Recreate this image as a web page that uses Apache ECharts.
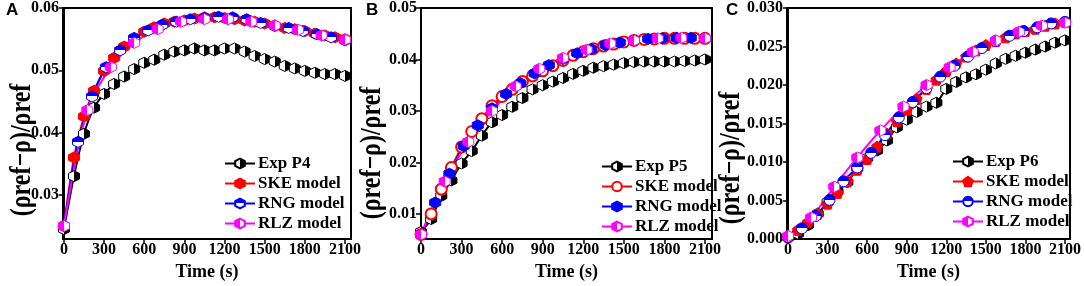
<!DOCTYPE html>
<html>
<head>
<meta charset="utf-8">
<script src="https://cdn.jsdelivr.net/npm/echarts@6.0.0/dist/echarts.min.js"></script>
<style>
  html, body { margin: 0; padding: 0; background: #fff; }
  #main { width: 1084px; height: 286px; }
</style>
</head>
<body>
<div id="main"></div>
<script>
// 时间 (s)
const tExp = [0, 75, 150, 225, 300, 375, 450, 525, 600, 675, 750, 825, 900, 975, 1050, 1125, 1200, 1275, 1350, 1425, 1500, 1575, 1650, 1725, 1800, 1875, 1950, 2025, 2100];
const tSke = tExp;
const tRng = [0, 105, 210, 315, 420, 525, 630, 735, 840, 945, 1050, 1155, 1260, 1365, 1470, 1575, 1680, 1785, 1890, 1995, 2100];
const tRlz = [0, 175, 350, 525, 700, 875, 1050, 1225, 1400, 1575, 1750, 1925, 2100];

// A - P4
const expA = [0.0245, 0.033, 0.0398, 0.044, 0.0462, 0.0478, 0.049, 0.0502, 0.0512, 0.0517, 0.0525, 0.053, 0.0532, 0.0535, 0.0532, 0.0532, 0.0535, 0.0535, 0.053, 0.0523, 0.0518, 0.0514, 0.0507, 0.0503, 0.0499, 0.0496, 0.0494, 0.0494, 0.0491];
const skeA = [0.025, 0.036, 0.0426, 0.0467, 0.0499, 0.052, 0.0538, 0.0551, 0.0562, 0.0569, 0.0575, 0.0578, 0.058, 0.0583, 0.0585, 0.0585, 0.0584, 0.0582, 0.058, 0.0578, 0.0575, 0.0572, 0.0568, 0.0566, 0.0563, 0.0559, 0.0556, 0.0553, 0.055];
const rngA = [0.025, 0.0385, 0.0458, 0.0505, 0.0532, 0.0552, 0.0564, 0.0573, 0.0578, 0.0582, 0.0584, 0.0586, 0.0585, 0.0582, 0.0576, 0.0571, 0.0568, 0.0563, 0.0558, 0.0553, 0.0548];
const rlzA = [0.025, 0.0436, 0.0505, 0.0544, 0.0566, 0.0578, 0.0582, 0.0582, 0.0578, 0.0572, 0.0565, 0.0556, 0.0549];

// B - P5
const expB = [0.0065, 0.009, 0.0135, 0.0165, 0.0198, 0.0222, 0.0252, 0.0278, 0.0292, 0.0308, 0.0325, 0.0342, 0.035, 0.0357, 0.0364, 0.0372, 0.0378, 0.0384, 0.0387, 0.039, 0.0393, 0.0395, 0.0396, 0.0396, 0.0396, 0.0396, 0.0397, 0.0398, 0.04];
const skeB = [0.006, 0.01, 0.0148, 0.019, 0.023, 0.026, 0.0285, 0.031, 0.0328, 0.0342, 0.0357, 0.0368, 0.0378, 0.0388, 0.0398, 0.0408, 0.0415, 0.0421, 0.0426, 0.043, 0.0434, 0.0437, 0.0439, 0.044, 0.0441, 0.0441, 0.0441, 0.0441, 0.0441];
const rngB = [0.006, 0.0122, 0.0178, 0.0232, 0.0272, 0.0305, 0.0333, 0.0354, 0.0373, 0.0389, 0.0401, 0.0412, 0.042, 0.0428, 0.0433, 0.0437, 0.044, 0.0441, 0.0442, 0.0442, 0.0441];
const rlzB = [0.006, 0.0163, 0.024, 0.03, 0.0348, 0.0382, 0.0403, 0.0419, 0.0431, 0.0437, 0.0441, 0.0442, 0.0441];

// C - P6
const expC = [0.0002, 0.0007, 0.0018, 0.0033, 0.0048, 0.0062, 0.0074, 0.0092, 0.0105, 0.0115, 0.0128, 0.0145, 0.0155, 0.0165, 0.0172, 0.0177, 0.0195, 0.0204, 0.021, 0.0214, 0.022, 0.0228, 0.0234, 0.0238, 0.0242, 0.0246, 0.025, 0.0255, 0.0258];
const skeC = [0.0003, 0.0012, 0.0022, 0.0033, 0.0046, 0.006, 0.0075, 0.009, 0.0104, 0.012, 0.0137, 0.0153, 0.0168, 0.0182, 0.0195, 0.0207, 0.0218, 0.0228, 0.0237, 0.0245, 0.0252, 0.0257, 0.0262, 0.0267, 0.027, 0.0273, 0.0277, 0.028, 0.0282];
const rngC = [0.0003, 0.0014, 0.003, 0.0051, 0.0075, 0.0093, 0.0112, 0.0135, 0.0158, 0.0178, 0.0196, 0.0211, 0.0225, 0.0237, 0.0248, 0.0257, 0.0264, 0.027, 0.0275, 0.028, 0.0282];
const rlzC = [0.0004, 0.0028, 0.0068, 0.0106, 0.0141, 0.0172, 0.02, 0.0223, 0.0243, 0.0258, 0.0269, 0.0277, 0.0281];

const xTicks = [0, 300, 600, 900, 1200, 1500, 1800, 2100];
const yTicksA = [0.03, 0.04, 0.05, 0.06];
const yTicksB = [0.01, 0.02, 0.03, 0.04, 0.05];
const yTicksC = [0, 0.005, 0.01, 0.015, 0.02, 0.025, 0.03];

const hexagon = 'path://M0,-10L8.66,-5L8.66,5L0,10L-8.66,5L-8.66,-5Z';
const pentagon = 'path://M0,-10L9.5,-3.1L5.9,8.1L-5.9,8.1L-9.5,-3.1Z';

// 半填充符号
function halfFill(c1, c2, vertical) {
  return new echarts.graphic.LinearGradient(0, 0, vertical ? 0 : 1, vertical ? 1 : 0, [
    { offset: 0, color: c1 },
    { offset: 0.5, color: c1 },
    { offset: 0.5, color: c2 },
    { offset: 1, color: c2 },
  ]);
}

function pairs(t, v) {
  return t.map((x, i) => [x, v[i]]);
}

function line(name, idx, t, v, color, symbol, fill, border) {
  return {
    name: name,
    type: 'line',
    xAxisIndex: idx,
    yAxisIndex: idx,
    data: pairs(t, v),
    smooth: 0.3,
    clip: false,
    symbol: symbol,
    symbolSize: 11,
    lineStyle: { color: color, width: 2 },
    itemStyle: { color: fill, borderColor: color, borderWidth: border || 1 },
  };
}

const series = [
  line('Exp P4', 0, tExp, expA, '#000', hexagon, halfFill('#fff', '#000')),
  line('SKE model#A', 0, tSke, skeA, '#ff0000', hexagon, '#ff0000'),
  line('RNG model#A', 0, tRng, rngA, '#0000ff', hexagon, halfFill('#0000ff', '#fff', true)),
  line('RLZ model#A', 0, tRlz, rlzA, '#ff00ff', hexagon, halfFill('#ff00ff', '#fff')),

  line('Exp P5', 1, tExp, expB, '#000', hexagon, halfFill('#fff', '#000')),
  line('SKE model#B', 1, tSke, skeB, '#ff0000', 'circle', '#fff', 2),
  line('RNG model#B', 1, tRng, rngB, '#0000ff', hexagon, '#0000ff'),
  line('RLZ model#B', 1, tRlz, rlzB, '#ff00ff', hexagon, halfFill('#ff00ff', '#fff')),

  line('Exp P6', 2, tExp, expC, '#000', hexagon, halfFill('#fff', '#000')),
  line('SKE model#C', 2, tSke, skeC, '#ff0000', pentagon, '#ff0000'),
  line('RNG model#C', 2, tRng, rngC, '#0000ff', 'circle', halfFill('#0000ff', '#fff', true)),
  line('RLZ model#C', 2, tRlz, rlzC, '#ff00ff', hexagon, halfFill('#ff00ff', '#fff')),
];

const serif = '"Liberation Serif", "Times New Roman", serif';

function grid(left, right, top, bottom) {
  return { left: left, right: right, top: top, bottom: bottom, show: true, borderColor: '#000', borderWidth: 2, containLabel: false };
}

function xAxis(idx, min, max) {
  return {
    type: 'value',
    gridIndex: idx,
    min: min,
    max: max,
    name: 'Time (s)',
    nameLocation: 'middle',
    nameGap: 22,
    nameTextStyle: { fontFamily: serif, fontWeight: 'bold', fontSize: 18, color: '#000' },
    axisLine: { lineStyle: { color: '#000', width: 2 } },
    axisTick: { customValues: xTicks, length: 5, lineStyle: { width: 1.5 } },
    axisLabel: {
      customValues: xTicks,
      margin: 3,
      fontFamily: serif,
      fontWeight: 'bold',
      fontSize: 16,
      color: '#000',
      formatter: (v) => String(v),
    },
    splitLine: { show: false },
  };
}

function yAxis(idx, min, max, ticks, digits) {
  return {
    type: 'value',
    gridIndex: idx,
    min: min,
    max: max,
    axisLine: { lineStyle: { color: '#000', width: 2 } },
    axisTick: { customValues: ticks, length: 5, lineStyle: { width: 1.5 } },
    axisLabel: {
      customValues: ticks,
      margin: 4,
      fontFamily: serif,
      fontWeight: 'bold',
      fontSize: 16,
      color: '#000',
      formatter: (v) => v.toFixed(digits),
    },
    splitLine: { show: false },
  };
}

function legend(names, left, top) {
  return {
    data: names,
    orient: 'vertical',
    left: left,
    top: top,
    itemWidth: 30,
    itemHeight: 12,
    itemGap: 3,
    padding: 0,
    formatter: (n) => n.split('#')[0],
    textStyle: { fontFamily: serif, fontWeight: 'bold', fontSize: 17, color: '#000', padding: [0, 0, 0, -2] },
  };
}

function panelLetter(text, x) {
  return { type: 'text', left: x, top: 2, style: { text: text, font: 'bold 17px "Liberation Sans", Arial, sans-serif', fill: '#000' } };
}

// 纵轴标题
function yTitle(x, y) {
  return {
    type: 'text',
    x: x,
    y: y,
    rotation: Math.PI / 2,
    scaleY: 1.25,
    style: {
      text: '(ρref−ρ)/ρref',
      font: 'bold 24px ' + serif,
      fill: '#000',
      align: 'center',
      verticalAlign: 'middle',
    },
  };
}

const option = {
  animation: false,
  backgroundColor: '#fff',
  grid: [grid(63, 733, 8, 43), grid(421, 372, 7, 41), grid(787, 12, 8, 43)],
  xAxis: [xAxis(0, -7, 2145), xAxis(1, 0, 2152), xAxis(2, -8, 2138)],
  yAxis: [
    yAxis(0, 0.0229, 0.06, yTicksA, 2),
    yAxis(1, 0.0051, 0.05, yTicksB, 2),
    yAxis(2, 0, 0.03, yTicksC, 3),
  ],
  legend: [
    legend(['Exp P4', 'SKE model#A', 'RNG model#A', 'RLZ model#A'], 224, 155),
    legend(['Exp P5', 'SKE model#B', 'RNG model#B', 'RLZ model#B'], 601, 158),
    legend(['Exp P6', 'SKE model#C', 'RNG model#C', 'RLZ model#C'], 952, 153),
  ],
  graphic: [
    panelLetter('A', 6), panelLetter('B', 366), panelLetter('C', 726),
    yTitle(22, 150), yTitle(372, 153), yTitle(731, 158),
  ],
  series: series,
};

const chart = echarts.init(document.getElementById('main'), null, { renderer: 'canvas' });
chart.setOption(option);
</script>
</body>
</html>
